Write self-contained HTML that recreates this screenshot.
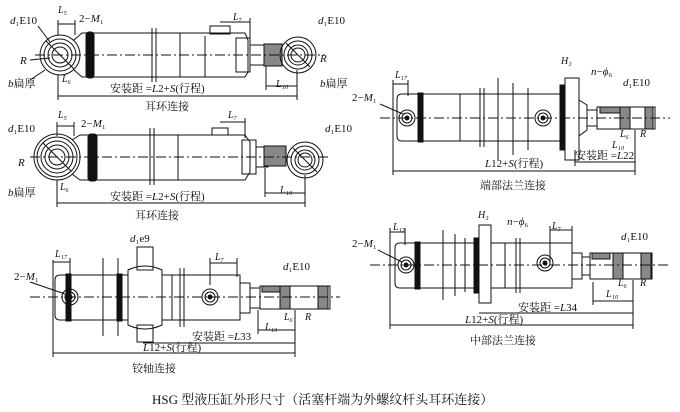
<!DOCTYPE html>
<html><head><meta charset="utf-8"><style>
html,body{margin:0;padding:0;background:#fff}
svg{display:block}
text{font-family:"Liberation Serif","Noto Serif CJK SC",serif;fill:#111;stroke:none}
</style></head><body>
<svg width="680" height="412" viewBox="0 0 680 412" xmlns="http://www.w3.org/2000/svg" stroke="#111" fill="none" stroke-width="1">
<defs>
<g id="eye"><circle r="20"/><circle r="16"/><circle r="12"/><circle r="8"/><line x1="-14" y1="-14" x2="14" y2="14"/></g>
<g id="eyes"><circle r="18"/><circle r="14"/><circle r="10"/><circle r="7"/><line x1="-12" y1="-12" x2="12" y2="12"/></g>
<g id="port"><circle r="8"/><circle r="5"/><circle r="2" fill="#111"/></g>
</defs>
<!-- ===== Drawing 1 ===== -->
<use href="#eye" x="60" y="55"/>
<path d="M74 40 L82 33 L245 33 L248 40 L248 72 L245 77 L82 77 L74 70"/>
<rect x="86" y="32" width="8" height="46" rx="3" fill="#111"/>
<line x1="152" y1="28" x2="152" y2="82"/><line x1="156" y1="28" x2="156" y2="82"/>
<line x1="180" y1="33" x2="180" y2="77"/><line x1="205" y1="36" x2="205" y2="77"/>
<rect x="236" y="38" width="14" height="34"/>
<rect x="250" y="45" width="16" height="20"/>
<rect x="264" y="44" width="18" height="22" fill="#888"/>
<rect x="210" y="26" width="20" height="8"/>
<use href="#eyes" x="298" y="55"/>
<line x1="35" y1="55" x2="325" y2="55" stroke-dasharray="10,3,2,3"/>
<line x1="58" y1="96" x2="297" y2="96"/>
<line x1="58" y1="75" x2="58" y2="100"/><line x1="297" y1="70" x2="297" y2="100"/>
<line x1="266" y1="86" x2="297" y2="86"/><line x1="266" y1="66" x2="266" y2="90"/>
<line x1="58" y1="20" x2="58" y2="35"/><line x1="75" y1="20" x2="75" y2="35"/><line x1="58" y1="24" x2="75" y2="24"/>
<line x1="220" y1="22" x2="250" y2="22"/><line x1="250" y1="18" x2="250" y2="38"/>
<line x1="30" y1="60" x2="50" y2="58"/><line x1="30" y1="80" x2="45" y2="70"/><line x1="38" y1="26" x2="50" y2="42"/>
<text x="110" y="92" font-size="11">安装距 =<tspan font-style="italic">L</tspan>2+<tspan font-style="italic">S</tspan>(行程)</text>
<text x="145" y="110" font-size="11">耳环连接</text>
<text x="10" y="24" font-size="11"><tspan font-style="italic">d</tspan>₁E10</text>
<text x="58" y="13" font-size="10" font-style="italic">L₅</text>
<text x="79" y="22" font-size="11">2−<tspan font-style="italic">M</tspan>₁</text>
<text x="20" y="64" font-size="11" font-style="italic">R</text>
<text x="8" y="87" font-size="11"><tspan font-style="italic">b</tspan>扁厚</text>
<text x="62" y="82" font-size="10" font-style="italic">L₆</text>
<text x="233" y="20" font-size="10" font-style="italic">L₇</text>
<text x="318" y="24" font-size="11"><tspan font-style="italic">d</tspan>₁E10</text>
<text x="320" y="62" font-size="11" font-style="italic">R</text>
<text x="320" y="87" font-size="11"><tspan font-style="italic">b</tspan>扁厚</text>
<text x="276" y="87" font-size="10" font-style="italic">L₁₀</text>
<!-- ===== Drawing 2 ===== -->
<use href="#eye" x="57" y="157"/><circle cx="57" cy="157" r="23"/>
<path d="M72 140 L80 135 L245 135 L250 142 L250 172 L245 180 L80 180 L72 174"/>
<rect x="88" y="134" width="9" height="47" rx="3" fill="#111"/>
<line x1="150" y1="128" x2="150" y2="185"/><line x1="154" y1="128" x2="154" y2="185"/>
<line x1="178" y1="135" x2="178" y2="180"/>
<rect x="242" y="140" width="14" height="34"/>
<rect x="256" y="147" width="12" height="20"/>
<rect x="264" y="146" width="22" height="20" fill="#888"/>
<rect x="212" y="128" width="16" height="7"/>
<use href="#eyes" x="305" y="160"/>
<line x1="30" y1="157" x2="330" y2="157" stroke-dasharray="10,3,2,3"/>
<line x1="57" y1="203" x2="305" y2="203"/>
<line x1="57" y1="180" x2="57" y2="207"/><line x1="305" y1="175" x2="305" y2="207"/>
<line x1="265" y1="193" x2="305" y2="193"/><line x1="265" y1="168" x2="265" y2="197"/>
<line x1="57" y1="122" x2="57" y2="136"/><line x1="74" y1="122" x2="74" y2="136"/><line x1="57" y1="126" x2="74" y2="126"/>
<line x1="220" y1="122" x2="245" y2="122"/><line x1="245" y1="118" x2="245" y2="138"/>
<text x="110" y="200" font-size="11">安装距 =<tspan font-style="italic">L</tspan>2+<tspan font-style="italic">S</tspan>(行程)</text>
<text x="135" y="219" font-size="11">耳环连接</text>
<text x="8" y="132" font-size="11"><tspan font-style="italic">d</tspan>₁E10</text>
<text x="58" y="118" font-size="10" font-style="italic">L₅</text>
<text x="81" y="127" font-size="11">2−<tspan font-style="italic">M</tspan>₁</text>
<text x="18" y="166" font-size="11" font-style="italic">R</text>
<text x="8" y="196" font-size="11"><tspan font-style="italic">b</tspan>扁厚</text>
<text x="60" y="190" font-size="10" font-style="italic">L₆</text>
<text x="228" y="118" font-size="10" font-style="italic">L₇</text>
<text x="325" y="132" font-size="11"><tspan font-style="italic">d</tspan>₁E10</text>
<text x="280" y="193" font-size="10" font-style="italic">L₁₀</text>
<!-- ===== Drawing 3 ===== -->
<path d="M402 94 L560 94 L560 141 L402 141 Q397 141 397 136 L397 99 Q397 94 402 94"/>
<rect x="418" y="93" width="5" height="49" fill="#111"/>
<line x1="480" y1="88" x2="480" y2="147"/><line x1="484" y1="88" x2="484" y2="147"/>
<line x1="460" y1="94" x2="460" y2="141"/><line x1="498" y1="78" x2="498" y2="160"/><line x1="513" y1="83" x2="513" y2="155"/><line x1="528" y1="88" x2="528" y2="150"/>
<use href="#port" x="407" y="118"/><use href="#port" x="543" y="118"/>
<rect x="560" y="85" width="5" height="65" fill="#111"/>
<rect x="565" y="78" width="14" height="82"/>
<path d="M579 100 L587 105 L587 130 L579 136"/>
<rect x="587" y="110" width="10" height="16"/>
<rect x="597" y="107" width="58" height="22"/>
<rect x="600" y="107" width="20" height="6" fill="#888"/><rect x="620" y="107" width="10" height="22" fill="#888"/><rect x="645" y="107" width="8" height="22" fill="#888"/>
<line x1="380" y1="118" x2="670" y2="118" stroke-dasharray="10,3,2,3"/>
<line x1="393" y1="171" x2="635" y2="171"/><line x1="393" y1="80" x2="393" y2="175"/><line x1="635" y1="130" x2="635" y2="175"/>
<line x1="575" y1="162" x2="635" y2="162"/><line x1="575" y1="150" x2="575" y2="166"/>
<line x1="393" y1="84" x2="408" y2="84"/><line x1="408" y1="80" x2="408" y2="96"/>
<line x1="380" y1="104" x2="403" y2="114"/>
<text x="575" y="159" font-size="11">安装距 =<tspan font-style="italic">L</tspan>22</text>
<text x="485" y="167" font-size="11"><tspan font-style="italic">L</tspan>12+<tspan font-style="italic">S</tspan>(行程)</text>
<text x="480" y="189" font-size="11">端部法兰连接</text>
<text x="395" y="78" font-size="10" font-style="italic">L₁₇</text>
<text x="352" y="101" font-size="11">2−<tspan font-style="italic">M</tspan>₁</text>
<text x="561" y="64" font-size="10" font-style="italic">H₃</text>
<text x="591" y="75" font-size="11"><tspan font-style="italic">n</tspan>−<tspan font-style="italic">ϕ</tspan>₆</text>
<text x="623" y="86" font-size="11"><tspan font-style="italic">d</tspan>₁E10</text>
<text x="620" y="137" font-size="10" font-style="italic">L₆</text>
<text x="640" y="137" font-size="10" font-style="italic">R</text>
<text x="612" y="148" font-size="10" font-style="italic">L₁₀</text>
<!-- ===== Drawing 4 ===== -->
<path d="M60 275 L240 275 L240 320 L60 320 Q55 320 55 315 L55 280 Q55 275 60 275"/>
<rect x="66" y="274" width="5" height="47" fill="#111"/><rect x="117" y="274" width="5" height="47" fill="#111"/>
<path d="M128 270 Q145 262 162 270 L162 325 Q145 333 128 325 Z" fill="#fff"/>
<rect x="137" y="247" width="16" height="23"/><rect x="137" y="325" width="16" height="17"/>
<line x1="180" y1="268" x2="180" y2="327"/><line x1="184" y1="268" x2="184" y2="327"/>
<line x1="172" y1="275" x2="172" y2="320"/><line x1="103" y1="258" x2="103" y2="336"/><line x1="118" y1="258" x2="118" y2="336"/>
<use href="#port" x="70" y="297"/><use href="#port" x="210" y="297"/>
<rect x="240" y="283" width="10" height="30"/>
<rect x="250" y="288" width="10" height="20"/>
<rect x="260" y="286" width="70" height="23"/>
<rect x="262" y="286" width="18" height="6" fill="#888"/><rect x="280" y="286" width="10" height="23" fill="#888"/><rect x="318" y="286" width="10" height="23" fill="#888"/>
<line x1="30" y1="297" x2="340" y2="297" stroke-dasharray="10,3,2,3"/>
<line x1="143" y1="343" x2="295" y2="343"/>
<line x1="53" y1="353" x2="295" y2="353"/><line x1="53" y1="260" x2="53" y2="357"/><line x1="295" y1="310" x2="295" y2="357"/>
<line x1="258" y1="330" x2="295" y2="330"/><line x1="258" y1="310" x2="258" y2="334"/>
<line x1="53" y1="262" x2="70" y2="262"/><line x1="70" y1="258" x2="70" y2="276"/>
<line x1="210" y1="263" x2="237" y2="263"/><line x1="210" y1="258" x2="210" y2="285"/><line x1="237" y1="258" x2="237" y2="277"/>
<line x1="30" y1="282" x2="65" y2="294"/>
<text x="192" y="340" font-size="11">安装距 =<tspan font-style="italic">L</tspan>33</text>
<text x="143" y="351" font-size="11"><tspan font-style="italic">L</tspan>12+<tspan font-style="italic">S</tspan>(行程)</text>
<text x="132" y="372" font-size="11">铰轴连接</text>
<text x="55" y="257" font-size="10" font-style="italic">L₁₇</text>
<text x="14" y="280" font-size="11">2−<tspan font-style="italic">M</tspan>₁</text>
<text x="130" y="242" font-size="11"><tspan font-style="italic">d</tspan>₁e9</text>
<text x="215" y="260" font-size="10" font-style="italic">L₇</text>
<text x="283" y="270" font-size="11"><tspan font-style="italic">d</tspan>₁E10</text>
<text x="284" y="320" font-size="10" font-style="italic">L₆</text>
<text x="305" y="320" font-size="10" font-style="italic">R</text>
<text x="265" y="330" font-size="10" font-style="italic">L₁₀</text>
<!-- ===== Drawing 5 ===== -->
<path d="M400 243 L572 243 L572 288 L400 288 Q395 288 395 283 L395 248 Q395 243 400 243"/>
<rect x="415" y="242" width="5" height="47" fill="#111"/>
<rect x="474" y="238" width="5" height="55" fill="#111"/>
<rect x="479" y="225" width="12" height="78" fill="#fff"/>
<line x1="516" y1="238" x2="516" y2="293"/><line x1="520" y1="238" x2="520" y2="293"/>
<line x1="443" y1="230" x2="443" y2="300"/><line x1="455" y1="234" x2="455" y2="296"/><line x1="465" y1="238" x2="465" y2="292"/><line x1="505" y1="243" x2="505" y2="288"/>
<use href="#port" x="406" y="265"/><use href="#port" x="545" y="263"/>
<rect x="572" y="253" width="10" height="26"/>
<rect x="582" y="257" width="8" height="18"/>
<rect x="590" y="253" width="62" height="26"/>
<rect x="592" y="253" width="18" height="6" fill="#888"/><rect x="613" y="253" width="10" height="26" fill="#888"/><rect x="641" y="253" width="10" height="26" fill="#888"/>
<line x1="370" y1="265" x2="670" y2="265" stroke-dasharray="10,3,2,3"/>
<line x1="479" y1="313" x2="633" y2="313"/>
<line x1="390" y1="325" x2="633" y2="325"/><line x1="390" y1="228" x2="390" y2="329"/><line x1="633" y1="280" x2="633" y2="329"/>
<line x1="593" y1="301" x2="633" y2="301"/><line x1="593" y1="282" x2="593" y2="305"/>
<line x1="390" y1="232" x2="405" y2="232"/><line x1="405" y1="228" x2="405" y2="245"/>
<line x1="550" y1="230" x2="572" y2="230"/><line x1="550" y1="226" x2="550" y2="262"/><line x1="572" y1="226" x2="572" y2="245"/>
<line x1="378" y1="250" x2="402" y2="262"/>
<text x="518" y="311" font-size="11">安装距 =<tspan font-style="italic">L</tspan>34</text>
<text x="465" y="323" font-size="11"><tspan font-style="italic">L</tspan>12+<tspan font-style="italic">S</tspan>(行程)</text>
<text x="470" y="344" font-size="11">中部法兰连接</text>
<text x="393" y="230" font-size="10" font-style="italic">L₁₇</text>
<text x="352" y="247" font-size="11">2−<tspan font-style="italic">M</tspan>₁</text>
<text x="478" y="218" font-size="10" font-style="italic">H₃</text>
<text x="507" y="225" font-size="11"><tspan font-style="italic">n</tspan>−<tspan font-style="italic">ϕ</tspan>₆</text>
<text x="552" y="229" font-size="10" font-style="italic">L₇</text>
<text x="621" y="240" font-size="11"><tspan font-style="italic">d</tspan>₁E10</text>
<text x="618" y="286" font-size="10" font-style="italic">L₆</text>
<text x="640" y="286" font-size="10" font-style="italic">R</text>
<text x="606" y="297" font-size="10" font-style="italic">L₁₀</text>
<!-- caption -->
<text x="152" y="404" font-size="13">HSG 型液压缸外形尺寸（活塞杆端为外螺纹杆头耳环连接）</text>
</svg>
</body></html>
